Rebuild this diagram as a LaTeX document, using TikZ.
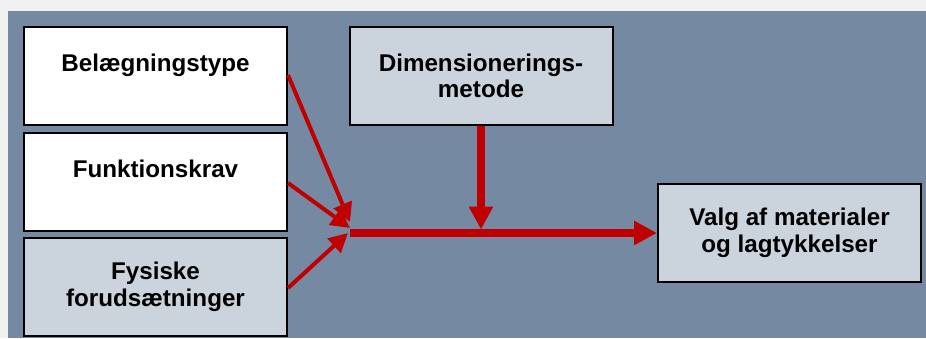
\documentclass[tikz,border=0pt]{standalone}
\usepackage{fontspec}
\setmainfont{Liberation Sans}
\usetikzlibrary{arrows.meta}
\definecolor{strip}{HTML}{F0F0F0}
\definecolor{slate}{HTML}{758AA2}
\definecolor{pale}{HTML}{CBD3DD}
\definecolor{arrred}{HTML}{C00000}
\tikzset{
  box/.style={draw=black, line width=2pt, minimum width=263pt, minimum height=98pt,
    inner sep=0pt, align=center, font=\bfseries\fontsize{24.2}{26.5}\selectfont},
  whitebox/.style={box, fill=white},
  palebox/.style={box, fill=pale},
  diag/.style={draw=arrred, line width=4pt, -{Triangle[length=19pt,width=19pt]}},
  thick arrow/.style={draw=arrred, line width=8pt, -{Triangle[length=23pt,width=23pt]}},
}
\begin{document}
\begin{tikzpicture}[x=1pt,y=-1pt]
\useasboundingbox (0,0) rectangle (926,338);
\fill[strip] (0,0) rectangle (926,338);
\fill[slate] (8,11) rectangle (926,338);
\node[whitebox] (b1) at (155.5,76) {Belægningstype\\\phantom{X}};
\node[whitebox] (b2) at (155.5,182) {Funktionskrav\\\phantom{X}};
\node[palebox] (b3) at (155.5,287) {Fysiske\\forudsætninger};
\node[palebox] (d) at (481,76) {Dimensionerings-\\metode};
\node[palebox] (v) at (789.5,233) {Valg af materialer\\og lagtykkelser};
\coordinate (j) at (350,233);
\coordinate (t1) at (350,222);
\coordinate (t2) at (350,228);
\coordinate (t3) at (348,233);
\coordinate (m) at (481,229.5);
\draw[diag] (b1.east |- 0,75) -- (t1);
\draw[diag] (b2.east |- 0,183) -- (t2);
\draw[diag] (b3.east |- 0,288) -- (t3);
\draw[thick arrow] (j) -- (v.west);
\draw[thick arrow] (d.south) -- (m);
\end{tikzpicture}
\end{document}
